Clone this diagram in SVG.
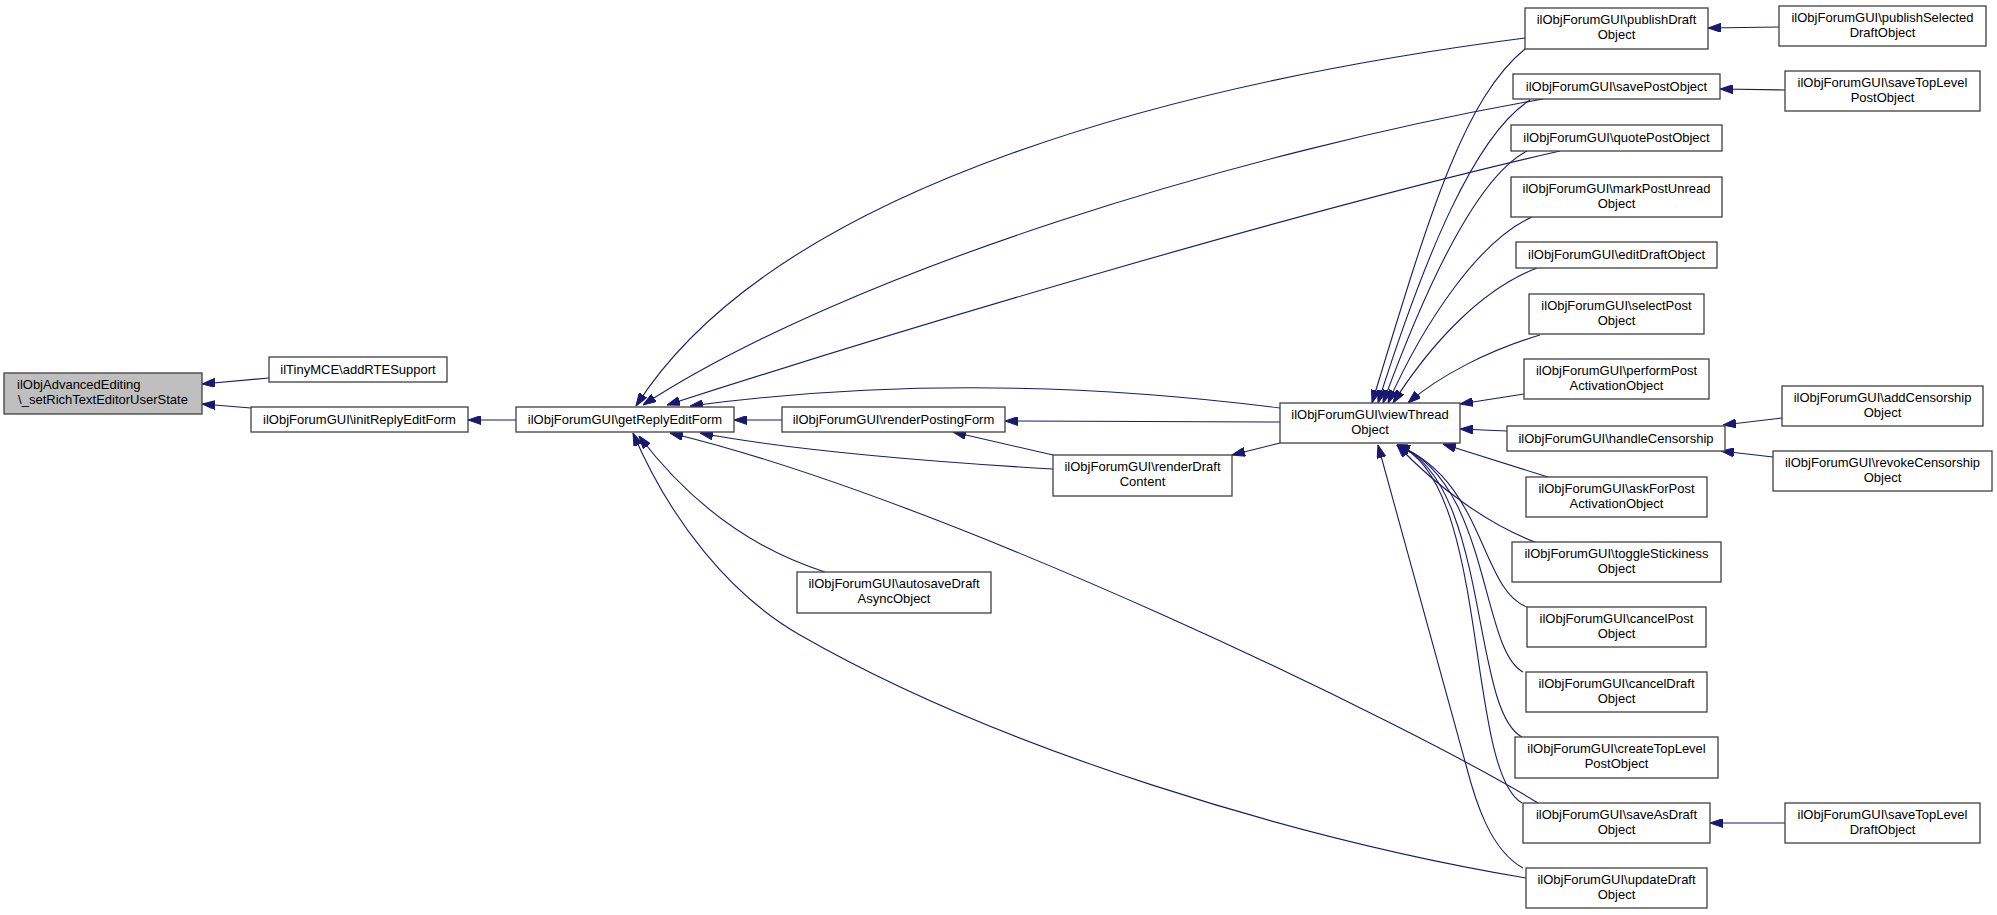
<svg xmlns="http://www.w3.org/2000/svg" width="1997" height="915" viewBox="0 0 1997 915">
<style>
.n rect{fill:#ffffff;stroke:#404040;stroke-width:1.3}
.n.root rect{fill:#bfbfbf}
.n text{font-family:"Liberation Sans",Arial,Helvetica,sans-serif;font-size:13px;fill:#000000;text-anchor:middle}
#edges path{fill:none;stroke:#191970;stroke-width:1.1;marker-end:url(#arr)}
</style>
<defs>
<marker id="arr" viewBox="0 0 13 9" refX="13" refY="4.5" markerWidth="13" markerHeight="9" orient="auto" markerUnits="userSpaceOnUse">
<path d="M0,0 L13,4.5 L0,9 z" fill="#191970" stroke="#191970" stroke-width="1"/>
</marker>
</defs>
<rect width="1997" height="915" fill="#ffffff"/>
<g id="edges">
<path d="M269,378 L202,384"/>
<path d="M251,408 L202,404"/>
<path d="M516,420 L468,420"/>
<path d="M782,420 L734,420"/>
<path d="M1280,422 L1005,421"/>
<path d="M1280,443 L1232,455"/>
<path d="M1053,455 L953,432"/>
<path d="M1053,469 C900,460 780,448 700,433"/>
<path d="M1280,408 C1100,385 900,378 690,406"/>
<path d="M1525,38 C1200,80 780,180 636,406"/>
<path d="M1543,99 C1250,150 850,270 643,405"/>
<path d="M1560,151 C1300,210 900,330 667,405"/>
<path d="M1538,803 C1420,730 950,500 670,433"/>
<path d="M1526,878 C1300,840 1000,750 800,635 C730,595 670,520 633,433"/>
<path d="M825,572 C740,545 680,490 639,436"/>
<path d="M1525,49 C1462,100 1427,223 1372,403"/>
<path d="M1530,100 C1475,135 1425,255 1378,403"/>
<path d="M1527,151 C1480,175 1430,275 1383,403"/>
<path d="M1532,217 C1480,240 1425,320 1388,403"/>
<path d="M1537,268 C1480,290 1430,345 1393,403"/>
<path d="M1540,335 C1490,350 1440,375 1408,403"/>
<path d="M1524,394 L1460,404"/>
<path d="M1507,431 L1460,429"/>
<path d="M1548,477 L1443,444"/>
<path d="M1535,542 C1490,525 1440,490 1397,445"/>
<path d="M1527,607 C1480,590 1485,480 1397,445"/>
<path d="M1523,672 C1480,650 1490,480 1397,445"/>
<path d="M1522,737 C1470,710 1490,480 1397,445"/>
<path d="M1522,803 C1465,770 1490,480 1397,445"/>
<path d="M1523,868 C1490,850 1475,800 1466,765 L1378,445"/>
<path d="M1779,27 L1708,28"/>
<path d="M1785,90 L1720,89"/>
<path d="M1782,418 L1723,425"/>
<path d="M1773,457 L1721,451"/>
<path d="M1785,823 L1710,823"/>
</g>
<g id="n_root" class="n root"><rect x="4" y="373" width="198" height="41"/><text x="17" y="389" style="text-anchor:start">ilObjAdvancedEditing</text><text x="103" y="404">\_setRichTextEditorUserState</text></g>
<g id="n_addRTE" class="n"><rect x="269" y="357" width="178" height="25"/><text x="358" y="374">ilTinyMCE\addRTESupport</text></g>
<g id="n_initReply" class="n"><rect x="251" y="407" width="217" height="25"/><text x="359.5" y="424">ilObjForumGUI\initReplyEditForm</text></g>
<g id="n_getReply" class="n"><rect x="516" y="407" width="218" height="25"/><text x="625" y="424">ilObjForumGUI\getReplyEditForm</text></g>
<g id="n_renderPosting" class="n"><rect x="782" y="407" width="223" height="25"/><text x="893.5" y="424">ilObjForumGUI\renderPostingForm</text></g>
<g id="n_autosave" class="n"><rect x="797" y="572" width="194" height="41"/><text x="894" y="588">ilObjForumGUI\autosaveDraft</text><text x="894" y="602.5">AsyncObject</text></g>
<g id="n_renderDraft" class="n"><rect x="1053" y="455" width="179" height="41"/><text x="1142.5" y="471">ilObjForumGUI\renderDraft</text><text x="1142.5" y="485.5">Content</text></g>
<g id="n_viewThread" class="n"><rect x="1280" y="403" width="180" height="40"/><text x="1370" y="419">ilObjForumGUI\viewThread</text><text x="1370" y="433.5">Object</text></g>
<g id="n_publishDraft" class="n"><rect x="1525" y="8" width="183" height="41"/><text x="1616.5" y="24">ilObjForumGUI\publishDraft</text><text x="1616.5" y="38.5">Object</text></g>
<g id="n_publishSelected" class="n"><rect x="1779" y="6" width="207" height="40"/><text x="1882.5" y="22">ilObjForumGUI\publishSelected</text><text x="1882.5" y="36.5">DraftObject</text></g>
<g id="n_savePost" class="n"><rect x="1513" y="74" width="207" height="25"/><text x="1616.5" y="91">ilObjForumGUI\savePostObject</text></g>
<g id="n_saveTopLevelPost" class="n"><rect x="1785" y="71" width="195" height="40"/><text x="1882.5" y="87">ilObjForumGUI\saveTopLevel</text><text x="1882.5" y="101.5">PostObject</text></g>
<g id="n_quotePost" class="n"><rect x="1511" y="125" width="211" height="26"/><text x="1616.5" y="142">ilObjForumGUI\quotePostObject</text></g>
<g id="n_markPostUnread" class="n"><rect x="1511" y="177" width="211" height="40"/><text x="1616.5" y="193">ilObjForumGUI\markPostUnread</text><text x="1616.5" y="207.5">Object</text></g>
<g id="n_editDraft" class="n"><rect x="1516" y="242" width="201" height="26"/><text x="1616.5" y="259">ilObjForumGUI\editDraftObject</text></g>
<g id="n_selectPost" class="n"><rect x="1529" y="294" width="175" height="40"/><text x="1616.5" y="310">ilObjForumGUI\selectPost</text><text x="1616.5" y="324.5">Object</text></g>
<g id="n_performPost" class="n"><rect x="1524" y="359" width="185" height="40"/><text x="1616.5" y="375">ilObjForumGUI\performPost</text><text x="1616.5" y="389.5">ActivationObject</text></g>
<g id="n_addCensorship" class="n"><rect x="1782" y="386" width="201" height="40"/><text x="1882.5" y="402">ilObjForumGUI\addCensorship</text><text x="1882.5" y="416.5">Object</text></g>
<g id="n_handleCensorship" class="n"><rect x="1507" y="426" width="218" height="25"/><text x="1616" y="443">ilObjForumGUI\handleCensorship</text></g>
<g id="n_revokeCensorship" class="n"><rect x="1773" y="451" width="219" height="40"/><text x="1882.5" y="467">ilObjForumGUI\revokeCensorship</text><text x="1882.5" y="481.5">Object</text></g>
<g id="n_askForPost" class="n"><rect x="1526" y="477" width="181" height="40"/><text x="1616.5" y="493">ilObjForumGUI\askForPost</text><text x="1616.5" y="507.5">ActivationObject</text></g>
<g id="n_toggleStickiness" class="n"><rect x="1512" y="542" width="209" height="40"/><text x="1616.5" y="558">ilObjForumGUI\toggleStickiness</text><text x="1616.5" y="572.5">Object</text></g>
<g id="n_cancelPost" class="n"><rect x="1527" y="607" width="179" height="40"/><text x="1616.5" y="623">ilObjForumGUI\cancelPost</text><text x="1616.5" y="637.5">Object</text></g>
<g id="n_cancelDraft" class="n"><rect x="1526" y="672" width="181" height="40"/><text x="1616.5" y="688">ilObjForumGUI\cancelDraft</text><text x="1616.5" y="702.5">Object</text></g>
<g id="n_createTopLevelPost" class="n"><rect x="1515" y="737" width="203" height="41"/><text x="1616.5" y="753">ilObjForumGUI\createTopLevel</text><text x="1616.5" y="767.5">PostObject</text></g>
<g id="n_saveAsDraft" class="n"><rect x="1523" y="803" width="187" height="40"/><text x="1616.5" y="819">ilObjForumGUI\saveAsDraft</text><text x="1616.5" y="833.5">Object</text></g>
<g id="n_saveTopLevelDraft" class="n"><rect x="1785" y="803" width="195" height="40"/><text x="1882.5" y="819">ilObjForumGUI\saveTopLevel</text><text x="1882.5" y="833.5">DraftObject</text></g>
<g id="n_updateDraft" class="n"><rect x="1526" y="868" width="181" height="40"/><text x="1616.5" y="884">ilObjForumGUI\updateDraft</text><text x="1616.5" y="898.5">Object</text></g>
</svg>
